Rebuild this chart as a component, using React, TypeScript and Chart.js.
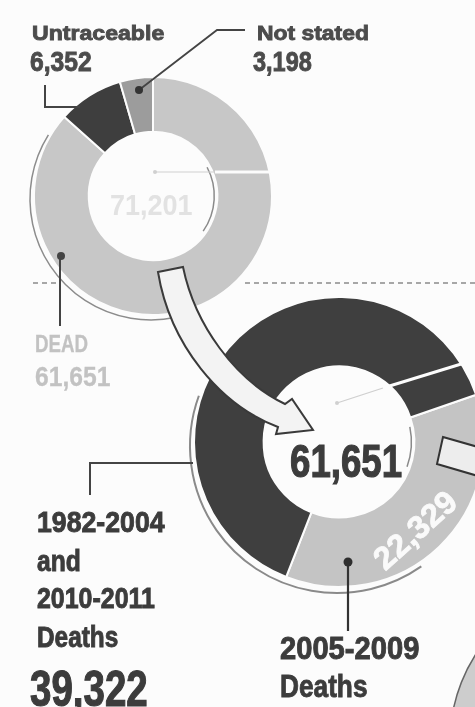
import React, { useEffect, useRef } from "react";
import { Chart, registerables } from "chart.js";
Chart.register(...registerables);

// ---- data ----
const topLabels = ["DEAD", "Untraceable", "Not stated"];
const topValues = [61651, 6352, 3198];
const topColors = ["#c7c7c7", "#3e3e3e", "#9c9c9c"];

const bottomLabels = ["2005-2009 Deaths", "1982-2004 and 2010-2011 Deaths"];
const bottomValues = [22329, 39322];
const bottomColors = ["#c4c4c4", "#3f3f3f"];

const fmt = (n: number) => n.toLocaleString("en-US");
const sum = (a: number[]) => a.reduce((s, v) => s + v, 0);
const BG = "#fcfcfc";
const FONT = '"Liberation Sans", Arial, sans-serif';

type Deco = {
  sdx: number; sdy: number; sdr: number; sa: number; sb: number; sw: number; sc: string;
  ia: number; ib: number;
  dot: [number, number]; mid: [number, number]; end: [number, number];
};

function decoPlugin(d: Deco) {
  const rad = (a: number) => (a * Math.PI) / 180;
  return {
    id: "deco",
    afterDatasetsDraw(chart: any) {
      const arc = chart.getDatasetMeta(0).data[0];
      const { x, y, innerRadius: r, outerRadius: R } = arc.getProps(["x", "y", "innerRadius", "outerRadius"], true);
      const ctx = chart.ctx;
      ctx.save();
      ctx.strokeStyle = d.sc;
      ctx.lineWidth = d.sw;
      ctx.beginPath();
      ctx.arc(x + d.sdx, y + d.sdy, R + d.sdr, rad(d.sa), rad(d.sb));
      ctx.stroke();
      ctx.strokeStyle = "#8a8a8a";
      ctx.lineWidth = 1.5;
      ctx.beginPath();
      ctx.arc(x, y, r - 3, rad(d.ia), rad(d.ib));
      ctx.stroke();
      ctx.strokeStyle = "#cfcfcf";
      ctx.lineWidth = 1.2;
      ctx.beginPath();
      ctx.moveTo(x + d.dot[0], y + d.dot[1]);
      ctx.lineTo(x + d.mid[0], y + d.mid[1]);
      ctx.stroke();
      ctx.strokeStyle = BG;
      ctx.lineWidth = 3;
      ctx.beginPath();
      ctx.moveTo(x + d.mid[0], y + d.mid[1]);
      ctx.lineTo(x + d.end[0], y + d.end[1]);
      ctx.stroke();
      ctx.fillStyle = "#d0d0d0";
      ctx.beginPath();
      ctx.arc(x + d.dot[0], y + d.dot[1], 2, 0, Math.PI * 2);
      ctx.fill();
      ctx.restore();
    },
  };
}

function Donut(props: {
  labels: string[]; values: number[]; colors: string[]; cutout: string; rotation: number;
  size: number; left: number; top: number; deco: Deco;
}) {
  const ref = useRef<HTMLCanvasElement | null>(null);
  useEffect(() => {
    if (!ref.current) return;
    const chart = new Chart(ref.current, {
      type: "doughnut",
      data: {
        labels: props.labels,
        datasets: [
          {
            data: props.values,
            backgroundColor: props.colors,
            borderColor: BG,
            borderWidth: 2,
            hoverOffset: 0,
          },
        ],
      },
      options: {
        animation: false,
        responsive: false,
        events: [],
        cutout: props.cutout,
        rotation: props.rotation,
        layout: { padding: 10 },
        plugins: { legend: { display: false }, tooltip: { enabled: false } },
      },
      plugins: [decoPlugin(props.deco)],
    } as any);
    return () => chart.destroy();
  }, []);
  return (
    <canvas
      ref={ref}
      width={props.size}
      height={props.size}
      style={{ position: "absolute", left: props.left, top: props.top, width: props.size, height: props.size }}
    />
  );
}

function Txt(p: { text: string; x: number; cap: number; size: number; sx: number; color: string; stroke?: number }) {
  return (
    <div
      style={{
        position: "absolute",
        left: p.x,
        top: p.cap - 0.13 * p.size,
        fontSize: p.size,
        lineHeight: `${p.size}px`,
        fontFamily: FONT,
        fontWeight: 700,
        color: p.color,
        whiteSpace: "nowrap",
        transform: `scaleX(${p.sx})`,
        transformOrigin: "0 0",
        WebkitTextStroke: `${p.stroke ?? 0.9}px ${p.color}`,
      }}
    >
      {p.text}
    </div>
  );
}

export default function App() {
  const bottomLeftLines = bottomLabels[1].split(" ");
  const bottomRightLines = bottomLabels[0].split(" ");
  const dark = "#3c3c3c";
  const topTxt = "#4c4c4c";
  const faded = "#c2c2c2";
  return (
    <div
      style={{
        position: "fixed",
        left: 0,
        top: 0,
        width: 475,
        height: 707,
        overflow: "hidden",
        background: BG,
      }}
    >
      <svg width={475} height={707} style={{ position: "absolute", left: 0, top: 0 }}>
        <line x1={33} y1={283} x2={58} y2={283} stroke="#8a8a8a" strokeWidth={1.5} strokeDasharray="5 4" />
        <line x1={245} y1={283} x2={475} y2={283} stroke="#8a8a8a" strokeWidth={1.5} strokeDasharray="5 4" />
        <circle cx={612} cy={742} r={162} fill="#cdcdcd" stroke="#666" strokeWidth={1.5} />
      </svg>

      <Donut
        labels={topLabels}
        values={topValues}
        colors={topColors}
        cutout="54%"
        rotation={0}
        size={260}
        left={23}
        top={66}
        deco={{
          sdx: -2, sdy: 3, sdr: 2, sa: 78, sb: 212, sw: 1.5, sc: "#8c8c8c",
          ia: -28, ib: 35,
          dot: [2, -24], mid: [62, -24], end: [125, -24],
        }}
      />
      <Donut
        labels={bottomLabels}
        values={bottomValues}
        colors={bottomColors}
        cutout="52%"
        rotation={71}
        size={312}
        left={183}
        top={286}
        deco={{
          sdx: -2, sdy: 4, sdr: 2, sa: 55, sb: 200, sw: 2, sc: "#8a8a8a",
          ia: -12, ib: 20,
          dot: [-2, -39], mid: [44, -54], end: [145, -85],
        }}
      />

      <svg width={475} height={707} style={{ position: "absolute", left: 0, top: 0 }}>
        <polyline points="45,85 45,107 80,107" fill="none" stroke="#444" strokeWidth={2} />
        <polyline points="139,90 217,30 245,30" fill="none" stroke="#444" strokeWidth={1.8} />
        <circle cx={139} cy={90} r={4} fill="#333" />
        <line x1={60} y1={256} x2={60} y2={326} stroke="#444" strokeWidth={2} />
        <circle cx={61} cy={256} r={4} fill="#444" />
        <polyline points="193,463 90,463 90,495" fill="none" stroke="#444" strokeWidth={2} />
        <line x1={348} y1={562} x2={348} y2={631} stroke="#333" strokeWidth={2.2} />
        <circle cx={348} cy={562} r={4.5} fill="#2e2e2e" />
        <path
          d="M158,272 L183,267 C195,325 235,380 285,404 L292,399 L313,430 L276,434 L278,427 C220,405 170,345 158,272 Z"
          fill="#f3f3f3"
          stroke="#3a3a3a"
          strokeWidth={2}
          strokeLinejoin="miter"
        />
        <polygon points="443,437 478,447 478,476 437,464" fill="#ededed" stroke="#333" strokeWidth={2} />
      </svg>

      <Txt text={topLabels[1]} x={32} cap={25} size={21} sx={1.1} color={topTxt} />
      <Txt text={fmt(topValues[1])} x={30} cap={52} size={28} sx={0.88} color={topTxt} />
      <Txt text={topLabels[2]} x={257} cap={25} size={21} sx={1.09} color={topTxt} />
      <Txt text={fmt(topValues[2])} x={253} cap={52} size={28} sx={0.84} color={topTxt} />
      <Txt text={topLabels[0]} x={35} cap={335} size={24} sx={0.78} color={faded} stroke={0.3} />
      <Txt text={fmt(topValues[0])} x={35} cap={367} size={28} sx={0.88} color={faded} stroke={0.3} />
      <Txt text={fmt(sum(topValues))} x={110} cap={194} size={30} sx={0.9} color="#e2e2e2" stroke={0} />

      <Txt text={fmt(sum(bottomValues))} x={290} cap={443} size={47} sx={0.78} color={dark} stroke={1.2} />
      <Txt text={bottomLeftLines[0]} x={37} cap={512} size={29} sx={0.92} color={dark} />
      <Txt text={bottomLeftLines[1]} x={37} cap={551} size={29} sx={0.85} color={dark} />
      <Txt text={bottomLeftLines[2]} x={37} cap={588} size={29} sx={0.86} color={dark} />
      <Txt text={bottomLeftLines[3]} x={37} cap={627} size={29} sx={0.84} color={dark} />
      <Txt text={fmt(bottomValues[1])} x={30} cap={670} size={50} sx={0.77} color={dark} stroke={1.2} />
      <Txt text={bottomRightLines[0]} x={280} cap={637} size={31} sx={0.94} color={dark} />
      <Txt text={bottomRightLines[1]} x={280} cap={674} size={32} sx={0.82} color={dark} />

      <div
        style={{
          position: "absolute",
          left: 415,
          top: 530,
          fontSize: 32,
          lineHeight: "32px",
          fontFamily: FONT,
          fontWeight: 700,
          color: "#fafafa",
          whiteSpace: "nowrap",
          transform: "translate(-50%, -50%) rotate(-42deg) scaleX(1.02)",
          WebkitTextStroke: "0.8px #fafafa",
        }}
      >
        {fmt(bottomValues[0])}
      </div>
    </div>
  );
}
